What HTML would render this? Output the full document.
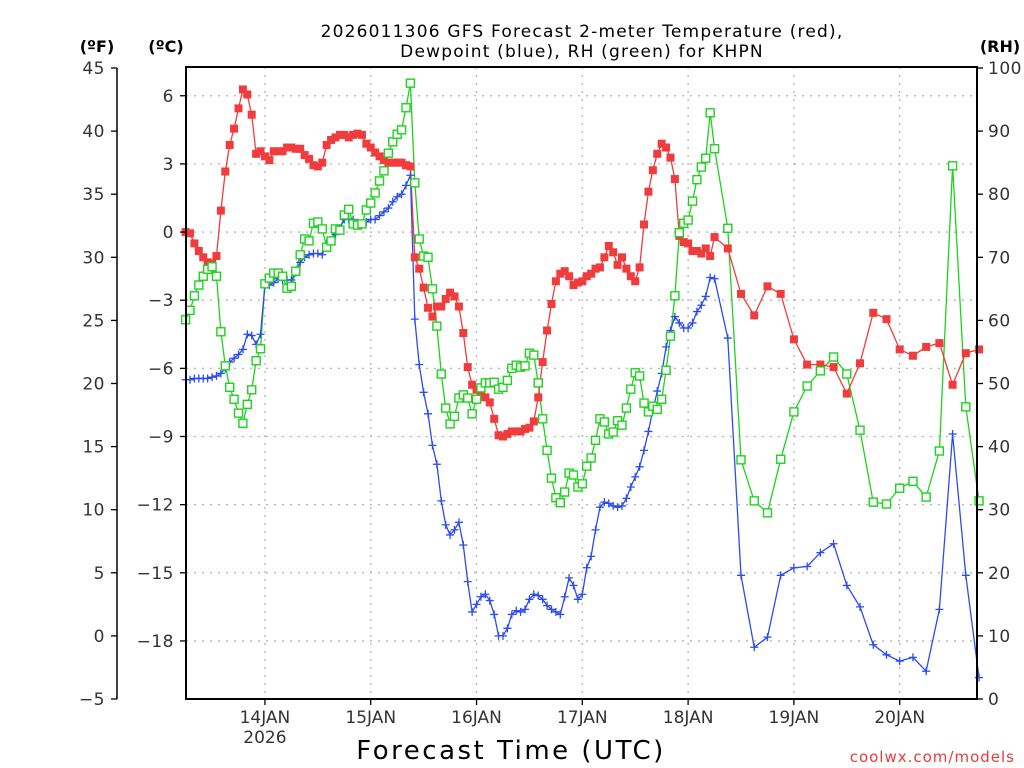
<!DOCTYPE html>
<html><head><meta charset="utf-8"><style>
html,body{margin:0;padding:0;background:#fff;}
svg{display:block;font-family:"DejaVu Sans","Liberation Sans",sans-serif;}
</style></head><body>
<svg id="chart" width="1024" height="768" viewBox="0 0 1024 768" xmlns="http://www.w3.org/2000/svg">
<rect x="0" y="0" width="1024" height="768" fill="#fff"/>
<g id="grid"></g>
<g id="series"></g>
<g id="axes"></g>
<text x="582" y="37" font-size="17" text-anchor="middle" letter-spacing="1.2">2026011306 GFS Forecast 2-meter Temperature (red),</text>
<text x="582" y="57" font-size="17" text-anchor="middle" letter-spacing="1.2">Dewpoint (blue), RH (green) for KHPN</text>
<text x="97" y="52" font-size="16" font-weight="bold" text-anchor="middle">(ºF)</text>
<text x="166" y="52" font-size="16" font-weight="bold" text-anchor="middle">(ºC)</text>
<text x="1000" y="52" font-size="16" font-weight="bold" text-anchor="middle">(RH)</text>
<text x="511" y="759" font-size="26" text-anchor="middle" letter-spacing="2.5">Forecast Time (UTC)</text>
<text x="1015" y="762" font-size="15" fill="#e83c3c" text-anchor="end" letter-spacing="1">coolwx.com/models</text>
</svg>
<script>
const hours = [];
for (let h = 0; h <= 120; h++) hours.push(h);
for (let h = 123; h <= 180; h += 3) hours.push(h);

const tempF = [32.0,31.9,31.1,30.5,30.0,29.6,29.5,30.1,33.7,36.8,
38.9,40.2,41.8,43.3,42.9,41.3,38.2,38.4,38.0,37.7,
38.4,38.4,38.4,38.7,38.7,38.6,38.6,38.1,37.8,37.3,
37.2,37.5,38.9,39.3,39.5,39.7,39.7,39.5,39.7,39.8,
39.7,39.0,38.7,38.3,38.0,37.7,37.5,37.5,37.5,37.5,
37.3,37.2,30.0,29.1,27.6,26.0,25.3,26.1,26.1,26.7,
27.2,26.9,26.1,24.0,21.3,19.9,19.5,19.1,18.9,18.5,
17.2,15.9,15.8,16.0,16.2,16.2,16.2,16.4,16.5,17.0,
18.9,21.7,24.2,26.3,28.1,28.7,28.9,28.5,27.8,28.0,
28.1,28.5,28.7,29.1,29.2,30.0,30.9,30.4,29.4,30.0,
29.1,28.5,28.1,29.2,32.6,35.2,36.9,38.2,39.0,38.7,
37.9,36.2,31.7,31.2,31.1,30.5,30.5,30.3,30.7,30.1,31.6,
30.7,27.1,25.4,27.7,27.1,23.5,21.5,21.5,21.3,19.2,
21.6,25.6,25.1,22.7,22.2,22.9,23.2,19.9,22.4,22.7];

const dewF = [20.3,20.3,20.4,20.4,20.4,20.4,20.5,20.6,20.8,21.2,
21.7,22.0,22.3,22.7,23.9,23.8,23.1,23.9,27.8,27.8,
28.0,28.3,28.2,28.2,28.2,28.8,29.6,30.0,30.2,30.3,
30.3,30.2,31.1,31.3,31.8,32.3,33.0,33.0,33.0,32.6,
32.6,32.8,33.0,33.0,33.3,33.6,33.9,34.4,34.8,35.0,
35.7,36.5,25.1,21.5,19.3,17.6,15.1,13.6,10.7,8.8,
8.0,8.4,9.0,7.2,4.3,1.9,2.5,3.1,3.3,2.8,
1.7,0.0,0.0,0.6,1.7,2.0,1.9,2.1,2.9,3.3,
3.2,2.9,2.4,2.1,1.9,1.7,3.1,4.6,4.0,2.9,
3.3,5.4,6.3,8.4,10.2,10.6,10.5,10.3,10.2,10.3,
10.9,11.8,12.6,13.4,14.7,16.2,17.9,19.4,20.8,22.9,
24.2,25.3,24.8,24.4,24.4,24.8,25.7,26.2,26.9,28.4,28.3,
23.6,4.8,-0.9,-0.1,4.8,5.4,5.5,6.6,7.3,4.0,
2.3,-0.7,-1.5,-2.0,-1.7,-2.8,2.1,16.0,4.8,-3.3];

const rh = [60.1,61.6,63.9,65.6,67.0,68.1,68.5,67.0,58.2,52.8,
49.4,47.5,45.3,43.7,46.7,49.0,53.6,55.5,65.8,66.7,
67.5,67.5,67.0,65.1,65.4,67.8,70.4,72.9,72.6,75.4,
75.6,74.5,71.6,72.6,74.5,74.3,76.7,77.6,75.3,75.1,
75.3,77.5,78.6,80.2,82.1,83.7,86.5,88.3,89.5,90.2,
93.7,97.6,81.8,72.9,70.2,70.0,65.0,59.1,51.5,46.1,
43.6,44.8,47.7,48.2,47.7,45.2,47.5,49.3,50.1,50.1,
50.2,49.1,49.4,50.5,52.4,52.9,52.6,52.8,54.8,54.5,
50.1,44.4,39.4,35.0,31.9,31.1,32.8,35.8,35.5,33.6,
34.1,36.9,38.2,41.0,44.4,43.9,42.0,42.3,44.1,43.4,
46.1,49.1,51.7,51.2,46.9,45.5,46.4,45.9,47.5,52.1,
57.5,63.9,73.9,75.4,75.9,78.9,82.3,84.3,85.7,92.9,87.2,
74.6,37.9,31.4,29.5,38.0,45.5,49.6,52.0,54.2,51.5,
42.6,31.2,30.9,33.4,34.5,32.0,39.3,84.5,46.3,31.4];

const fTicks = [45,40,35,30,25,20,15,10,5,0,-5];
const cTicks = [6,3,0,-3,-6,-9,-12,-15,-18];
const rhTicks = [100,90,80,70,60,50,40,30,20,10,0];
const dayLabels = ["14JAN","15JAN","16JAN","17JAN","18JAN","19JAN","20JAN"];
const dayHours = [18,42,66,90,114,138,162];

const L=186, R=977, T=67, B=699;
const xOf = h => 185.6 + h*4.408;
const yF = f => 68 + (45 - f)*12.62;
const yC = c => yF(c*9/5 + 32);
const yRH = r => 68 + (100 - r)*6.31;

const NS="http://www.w3.org/2000/svg";
function mk(tag, attrs, parent){const e=document.createElementNS(NS,tag);for(const k in attrs)e.setAttribute(k,attrs[k]);parent.appendChild(e);return e;}
const grid=document.getElementById('grid'), ser=document.getElementById('series'), ax=document.getElementById('axes');

cTicks.forEach(c=>{const y=yC(c);
 const g=mk('line',{x1:L,x2:R,y1:y,y2:y,stroke:'#b4b4b4','stroke-width':1.3,'stroke-dasharray':'2 6'},grid);
 
 });
dayHours.forEach(h=>{const x=xOf(h);
 const g=mk('line',{x1:x,x2:x,y1:T,y2:B,stroke:'#b4b4b4','stroke-width':1.3,'stroke-dasharray':'2 6'},grid);
 
 });

function drawLine(vals, yfn, color, name){
 const pts=vals.map((v,i)=>xOf(hours[i]).toFixed(1)+','+yfn(v).toFixed(1)).join(' ');
 const p=mk('polyline',{points:pts,fill:'none',stroke:color,'stroke-width':1.3},ser);
 
 
}
const cRed='#f03c3c', cBlue='#2c4cf0', cGreen='#1ed21e';
drawLine(rh,yRH,cGreen,'rh');
drawLine(tempF,yF,cRed,'temperature');
drawLine(dewF,yF,cBlue,'dewpoint');
dewF.forEach((v,i)=>{const x=xOf(hours[i]),y=yF(v);
 const m=mk('path',{d:`M${x-4},${y}H${x+4}M${x},${y-4}V${y+4}`,stroke:cBlue,'stroke-width':1.3,fill:'none'},ser);
 
 });
tempF.forEach((v,i)=>{const x=xOf(hours[i]),y=yF(v);
 const m=mk('rect',{x:x-4,y:y-4,width:8,height:8,fill:cRed},ser);
 
 });
rh.forEach((v,i)=>{const x=xOf(hours[i]),y=yRH(v);
 const m=mk('rect',{x:x-4,y:y-4,width:8,height:8,fill:'#fff',stroke:cGreen,'stroke-width':1.4},ser);
 
 });

const fr=mk('rect',{x:L,y:T,width:R-L,height:B-T,fill:'none',stroke:'#000','stroke-width':2},ax);


const fl=mk('line',{x1:117,x2:117,y1:68,y2:699,stroke:'#000','stroke-width':1.5},ax);


fTicks.forEach(f=>{const y=yF(f);
 const t=mk('line',{x1:111,x2:117,y1:y,y2:y,stroke:'#000','stroke-width':1.3},ax);
 
 
 const tx=mk('text',{x:105,y:y+6,'font-size':17,'text-anchor':'end',fill:'#333','letter-spacing':0.5},ax);
 tx.textContent=f<0?'\u2212'+Math.abs(f):String(f);
 
 });
cTicks.forEach(c=>{const y=yC(c);
 const t=mk('line',{x1:180,x2:186,y1:y,y2:y,stroke:'#000','stroke-width':1.3},ax);
 
 
 const tx=mk('text',{x:174,y:y+6,'font-size':17,'text-anchor':'end',fill:'#333','letter-spacing':0.5},ax);
 tx.textContent=c<0?'\u2212'+Math.abs(c):String(c);
 
 });
rhTicks.forEach(r=>{const y=yRH(r);
 const t=mk('line',{x1:977,x2:983,y1:y,y2:y,stroke:'#000','stroke-width':1.3},ax);
 
 
 const tx=mk('text',{x:988,y:y+6,'font-size':17,'text-anchor':'start',fill:'#333','letter-spacing':0.5},ax);
 tx.textContent=String(r);
 
 });
dayHours.forEach((h,i)=>{const x=xOf(h);
 const t=mk('line',{x1:x,x2:x,y1:699,y2:705,stroke:'#000','stroke-width':1.3},ax);
 
 
 const tx=mk('text',{x:x,y:723,'font-size':17,'text-anchor':'middle',fill:'#333'},ax);
 tx.textContent=dayLabels[i];
 
 });
const yr=mk('text',{x:xOf(18),y:743,'font-size':17,'text-anchor':'middle',fill:'#333'},ax);
yr.textContent='2026';


</script>
</body></html>
